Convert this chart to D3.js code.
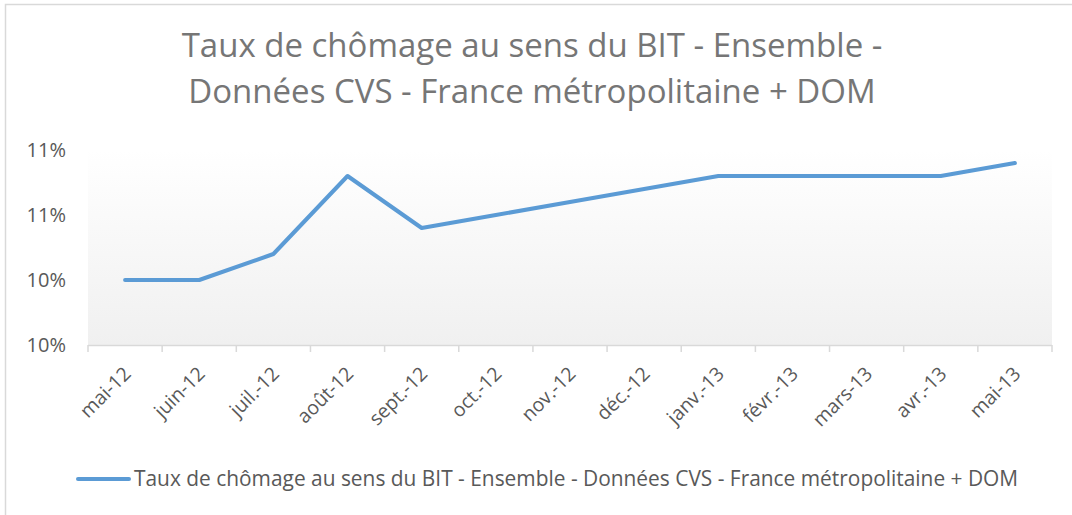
<!DOCTYPE html>
<html>
<head>
<meta charset="utf-8">
<script src="https://cdn.jsdelivr.net/npm/d3@7/dist/d3.min.js"></script>
<style>
  body { margin: 0; background: #fff; }
  text { font-family: "Open Sans", sans-serif; }
</style>
</head>
<body>
<script>
// data
var months = ["mai-12", "juin-12", "juil.-12", "août-12", "sept.-12", "oct.-12", "nov.-12",
              "déc.-12", "janv.-13", "févr.-13", "mars-13", "avr.-13", "mai-13"];
var taux = [10.4, 10.4, 10.48, 10.72, 10.56, 10.6, 10.64, 10.68, 10.72, 10.72, 10.72, 10.72, 10.76];
var yTicks = [10.2, 10.4, 10.6, 10.8];
var titleLines = ["Taux de chômage au sens du BIT - Ensemble -",
                  "Données CVS - France métropolitaine + DOM"];
var seriesName = "Taux de chômage au sens du BIT - Ensemble - Données CVS - France métropolitaine + DOM";

var w = 1072, h = 515;
var plotLeft = 88, plotRight = 1052, plotTop = 150, plotBottom = 345;

var svg = d3.select("body").append("svg")
    .attr("width", w)
    .attr("height", h);

// chart border (only top and left show in the picture)
svg.append("rect")
    .attr("x", 5.5).attr("y", 4.5)
    .attr("width", w + 20).attr("height", h + 20)
    .attr("fill", "none")
    .attr("stroke", "#d9d9d9")
    .attr("stroke-width", 1.5);

// plot area gradient
var grad = svg.append("defs").append("linearGradient")
    .attr("id", "plotbg")
    .attr("x1", 0).attr("y1", 0).attr("x2", 0).attr("y2", 1);
grad.append("stop").attr("offset", "0%").attr("stop-color", "#ffffff");
grad.append("stop").attr("offset", "100%").attr("stop-color", "#f0f0f0");

svg.append("rect")
    .attr("x", plotLeft).attr("y", plotTop)
    .attr("width", plotRight - plotLeft).attr("height", plotBottom - plotTop)
    .attr("fill", "url(#plotbg)");

var x = d3.scaleBand()
    .domain(months)
    .range([plotLeft, plotRight]);

var y = d3.scaleLinear()
    .domain([10.2, 10.8])
    .range([plotBottom, plotTop]);

// title
svg.append("text")
    .attr("text-anchor", "middle")
    .attr("fill", "#767676")
    .attr("font-size", 33)
    .selectAll("tspan")
    .data(titleLines)
    .enter()
    .append("tspan")
    .attr("x", 532)
    .attr("y", function (d, i) { return 57 + i * 46; })
    .text(function (d) { return d; });

// y axis labels
var yAxis = d3.axisLeft(y)
    .tickValues(yTicks)
    .tickSize(0)
    .tickPadding(0)
    .tickFormat(function (d) { return Math.round(d) + "%"; });

var gy = svg.append("g")
    .attr("transform", "translate(66,0)")
    .call(yAxis);
gy.select(".domain").remove();
gy.selectAll("text")
    .attr("font-family", "'Open Sans', sans-serif")
    .attr("font-size", 20)
    .attr("fill", "#595959");

// x axis
var gx = svg.append("g")
    .attr("transform", "translate(0," + plotBottom + ")");

gx.append("line")
    .attr("x1", plotLeft).attr("x2", plotRight)
    .attr("y1", 0.5).attr("y2", 0.5)
    .attr("stroke", "#d9d9d9")
    .attr("stroke-width", 1.5);

var bounds = months.map(function (m) { return x(m); }).concat([plotRight]);
gx.selectAll("line.tick")
    .data(bounds)
    .enter()
    .append("line")
    .attr("class", "tick")
    .attr("x1", function (d) { return d; })
    .attr("x2", function (d) { return d; })
    .attr("y1", 0).attr("y2", 7)
    .attr("stroke", "#d9d9d9")
    .attr("stroke-width", 1.5);

gx.selectAll("text")
    .data(months)
    .enter()
    .append("text")
    .attr("text-anchor", "end")
    .attr("font-size", 19.5)
    .attr("fill", "#595959")
    .attr("transform", function (d) {
        return "translate(" + (x(d) + x.bandwidth() / 2 + 7) + ",30) rotate(-45)";
    })
    .text(function (d) { return d; });

// line
var line = d3.line()
    .x(function (d, i) { return x(months[i]) + x.bandwidth() / 2; })
    .y(function (d) { return y(d); });

svg.append("path")
    .datum(taux)
    .attr("d", line)
    .attr("fill", "none")
    .attr("stroke", "#5b9bd5")
    .attr("stroke-width", 4)
    .attr("stroke-linecap", "round")
    .attr("stroke-linejoin", "round");

// legend
svg.append("line")
    .attr("x1", 78).attr("x2", 129)
    .attr("y1", 479).attr("y2", 479)
    .attr("stroke", "#5b9bd5")
    .attr("stroke-width", 4)
    .attr("stroke-linecap", "round");

svg.append("text")
    .attr("x", 134)
    .attr("y", 486)
    .attr("font-size", 20.9)
    .attr("fill", "#595959")
    .text(seriesName);
</script>
</body>
</html>
